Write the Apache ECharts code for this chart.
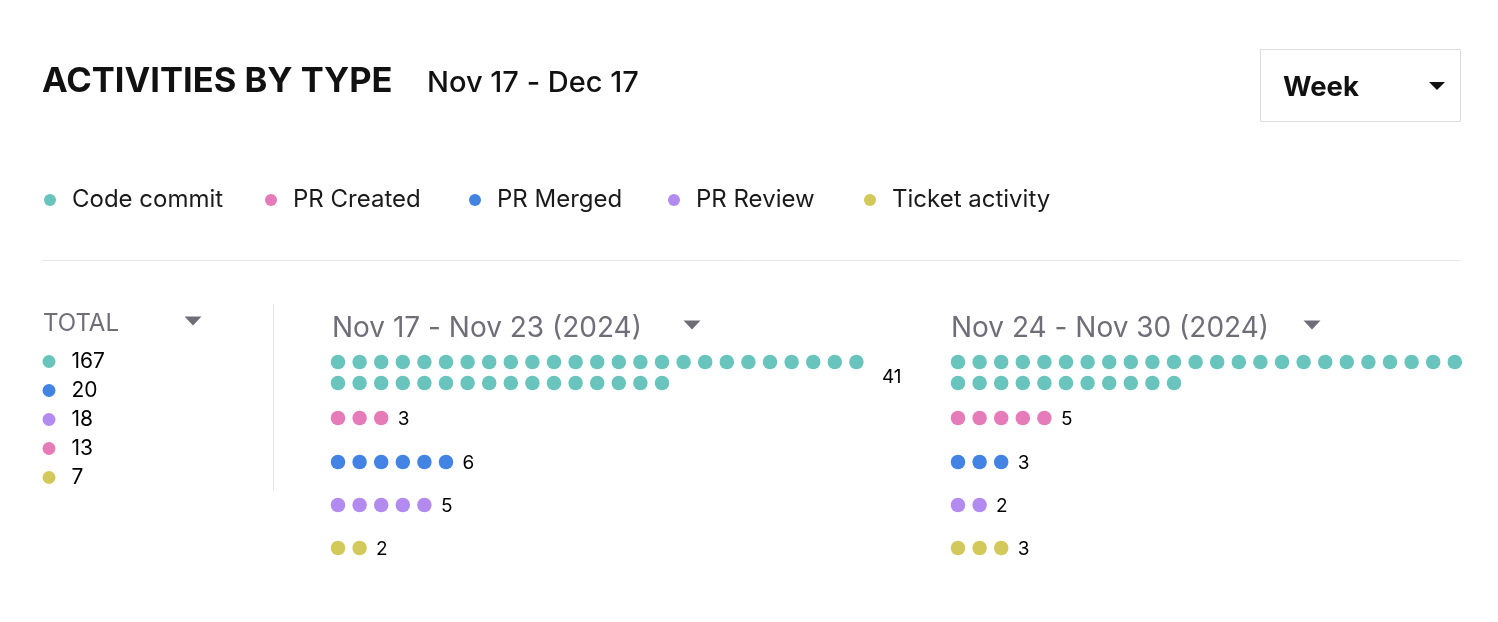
<!DOCTYPE html>
<html>
<head>
<meta charset="utf-8">
<title>Activities by type</title>
<script src="https://cdn.jsdelivr.net/npm/echarts@6/dist/echarts.min.js"></script>
<style>
  html, body { margin: 0; padding: 0; background: #fff; }
  #chart { width: 1498px; height: 622px; }
</style>
</head>
<body>
<div id="chart"></div>
<script>
// activity types and their colours (same order everywhere)
var types = ['Code commit', 'PR Created', 'PR Merged', 'PR Review', 'Ticket activity'];
var colors = ['#68C4BC', '#E67BB9', '#4283E3', '#B38BF0', '#D3C95B'];

// weekly counts, one value per type
var weekLabels = ['Nov 17 - Nov 23 (2024)', 'Nov 24 - Nov 30 (2024)'];
var week1 = [41, 3, 6, 5, 2];
var week2 = [36, 5, 3, 2, 3];

// totals for Nov 17 - Dec 17, one value per type
var totals = [167, 13, 20, 18, 7];

var FONT = 'Inter';
var PER_ROW = 25;          // dots per line before wrapping
var ROW_Y = [0, 56, 100, 143, 186]; // y offset (px) of each type row
var WRAP_GAP = 21;          // y distance between wrapped lines
var STEP = 21.6;            // px per dot

var chart = echarts.init(document.getElementById('chart'));

function weekSeries(counts, gridIndex, week) {
    var out = [];
    counts.forEach(function (n, t) {
        var dots = [];
        for (var i = 0; i < n; i++) {
            dots.push([i % PER_ROW, ROW_Y[t] + Math.floor(i / PER_ROW) * WRAP_GAP]);
        }
        out.push({
            name: types[t],
            type: 'scatter',
            xAxisIndex: gridIndex,
            yAxisIndex: gridIndex,
            symbolSize: 14.5,
            itemStyle: { color: colors[t], opacity: 1 },
            emphasis: { disabled: true },
            data: dots
        });
    });
    // count labels at the end of each row
    var labels = counts.map(function (n, t) {
        var wrapped = n > PER_ROW;
        var x = wrapped ? PER_ROW - 1 + 25 / STEP : n - 1 + 16 / STEP;
        var y = wrapped ? ROW_Y[t] + 15 : ROW_Y[t] + 1;
        return { value: [x, y], count: n };
    });
    out.push({
        name: 'count-' + week,
        type: 'scatter',
        xAxisIndex: gridIndex,
        yAxisIndex: gridIndex,
        symbolSize: 1,
        itemStyle: { color: 'transparent', opacity: 1 },
        emphasis: { disabled: true },
        label: {
            show: true,
            position: 'right',
            distance: 0,
            color: '#000',
            fontFamily: FONT,
            fontSize: 19,
            formatter: function (p) { return p.data.count; }
        },
        data: labels
    });
    return out;
}

// totals list, sorted high to low
var order = totals.map(function (v, i) { return i; })
    .sort(function (a, b) { return totals[b] - totals[a]; });

var totalSeries = {
    name: 'Total',
    type: 'scatter',
    xAxisIndex: 2,
    yAxisIndex: 2,
    symbolSize: 13,
    clip: false,
    itemStyle: { opacity: 1 },
    emphasis: { disabled: true },
    label: {
        show: true,
        position: 'right',
        distance: 16,
        color: '#000',
        fontFamily: FONT,
        fontSize: 21,
        formatter: function (p) { return totals[order[p.dataIndex]]; }
    },
    data: order.map(function (t) {
        return { value: [0, types[t]], itemStyle: { color: colors[t], opacity: 1 } };
    })
};

var legendX = [50, 271, 475, 674, 870];
var legends = types.map(function (name, i) {
    return {
        data: [name],
        left: legendX[i] - 6,
        top: 187,
        padding: 0,
        icon: 'circle',
        itemWidth: 34,
        itemHeight: 12,
        selectedMode: false,
        textStyle: { fontFamily: FONT, fontSize: 24, color: '#1a1a1a', lineHeight: 26 }
    };
});

function hiddenAxis(extra) {
    return Object.assign({
        show: false,
        splitLine: { show: false }
    }, extra);
}

function tri(cx, cy, w, h, color) {
    return {
        type: 'polygon',
        shape: { points: [[cx - w / 2, cy - h / 2], [cx + w / 2, cy - h / 2], [cx, cy + h / 2]] },
        style: { fill: color },
        silent: true
    };
}

function txt(x, y, text, size, color, weight) {
    return {
        type: 'text',
        x: x,
        y: y,
        silent: true,
        style: {
            text: text,
            fontFamily: FONT,
            fontSize: size,
            fontWeight: weight || 'normal',
            fill: color,
            verticalAlign: 'middle'
        }
    };
}

var option = {
    backgroundColor: '#fff',
    animation: false,
    title: [
        {
            text: 'ACTIVITIES BY TYPE',
            left: 42,
            top: 64,
            padding: 0,
            textStyle: { fontFamily: FONT, fontSize: 34.5, fontWeight: 'bold', color: '#111' }
        },
        {
            text: 'Nov 17 - Dec 17',
            left: 427,
            top: 69,
            padding: 0,
            textStyle: { fontFamily: FONT, fontSize: 29, fontWeight: 500, color: '#111' }
        }
    ],
    legend: legends,
    grid: [
        { left: 338 - STEP / 2, top: 352, width: 29 * STEP, height: 210 },
        { left: 958 - STEP / 2, top: 352, width: 1462 - (958 - STEP / 2), height: 210 },
        { left: 39, top: 347, width: 20, height: 145 }
    ],
    xAxis: [
        hiddenAxis({ type: 'value', gridIndex: 0, min: -0.5, max: 28.5 }),
        hiddenAxis({ type: 'value', gridIndex: 1, min: -0.5, max: (1462 - (958 - STEP / 2)) / STEP - 0.5 }),
        hiddenAxis({ type: 'value', gridIndex: 2, min: -1, max: 1 })
    ],
    yAxis: [
        hiddenAxis({ type: 'value', gridIndex: 0, min: -10, max: 200, inverse: true }),
        hiddenAxis({ type: 'value', gridIndex: 1, min: -10, max: 200, inverse: true }),
        hiddenAxis({ type: 'category', gridIndex: 2, inverse: true, data: order.map(function (t) { return types[t]; }) })
    ],
    series: weekSeries(week1, 0, 0).concat(weekSeries(week2, 1, 1), [totalSeries]),
    graphic: [
        // week picker
        {
            type: 'rect',
            shape: { x: 1260.5, y: 49.5, width: 200, height: 72 },
            style: { fill: '#fff', stroke: '#dcdcdc', lineWidth: 1 },
            silent: true
        },
        txt(1283, 88, 'Week', 27.5, '#111', 'bold'),
        tri(1437, 86, 16, 8, '#111'),
        // separators
        {
            type: 'line',
            shape: { x1: 42, y1: 260.5, x2: 1461, y2: 260.5 },
            style: { stroke: '#e6e6e6', lineWidth: 1 },
            silent: true
        },
        {
            type: 'line',
            shape: { x1: 273.5, y1: 304, x2: 273.5, y2: 491 },
            style: { stroke: '#e6e6e6', lineWidth: 1 },
            silent: true
        },
        // totals header
        txt(43, 324, 'TOTAL', 24, '#6e6e78'),
        tri(193, 321, 17, 9, '#6e6e78'),
        // week headers
        txt(332, 329, weekLabels[0], 28, '#6e6e78'),
        tri(692, 325, 17, 9, '#6e6e78'),
        txt(951, 329, weekLabels[1], 28, '#6e6e78'),
        tri(1312, 325, 17, 9, '#6e6e78')
    ]
};

chart.setOption(option);
</script>
</body>
</html>
